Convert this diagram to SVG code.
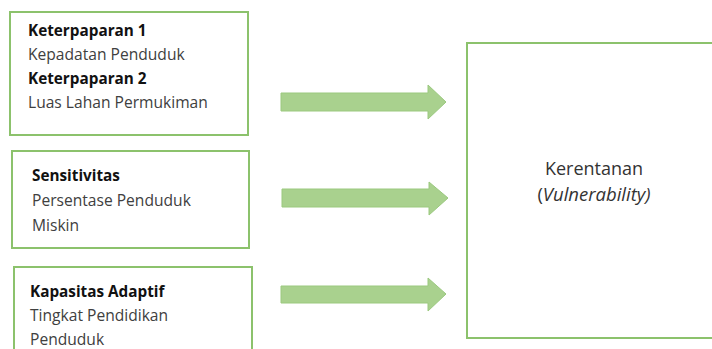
<svg xmlns="http://www.w3.org/2000/svg" width="712" height="349" viewBox="0 0 712 349">
<style>
.box{fill:#fff;stroke:#8cc26c;stroke-width:2}
.arrow{fill:#a9d18e;stroke:#9bc97f;stroke-width:1}
text{font-family:"Open Sans","Liberation Sans",sans-serif;font-size:15.6px;fill:#404040}
.b{font-weight:bold;fill:#111;font-size:15.3px}
.c{font-size:18px;fill:#333}
</style>
<rect width="712" height="349" fill="#fff"/>
<g id="keterpaparan">
<rect class="box" x="10" y="12" width="238" height="123"/>
<text class="b" x="28" y="36">Keterpaparan 1</text>
<text x="28" y="60">Kepadatan Penduduk</text>
<text class="b" x="28" y="84">Keterpaparan 2</text>
<text x="28" y="108">Luas Lahan Permukiman</text>
</g>
<g id="sensitivitas">
<rect class="box" x="12" y="151" width="237" height="97"/>
<text class="b" x="32" y="181">Sensitivitas</text>
<text x="32" y="206">Persentase Penduduk</text>
<text x="32" y="231">Miskin</text>
</g>
<g id="kapasitas">
<rect class="box" x="14" y="267" width="238" height="100"/>
<text class="b" x="30" y="297">Kapasitas Adaptif</text>
<text x="30" y="321">Tingkat Pendidikan</text>
<text x="30" y="345">Penduduk</text>
</g>
<g id="kerentanan">
<rect class="box" x="467" y="43" width="260" height="295"/>
<text class="c" x="594" y="175" text-anchor="middle">Kerentanan</text>
<text class="c" x="594" y="201" text-anchor="middle" style="font-size:18.5px">(<tspan font-style="italic">Vulnerability)</tspan></text>
</g>
<g id="connectors">
<polygon class="arrow" points="281,93 428,93 428,85 446,102 428,119 428,111 281,111"/>
<polygon class="arrow" points="282,189 429,189 429,182 448,198 429,215 429,207 282,207"/>
<polygon class="arrow" points="281,286 428,286 428,278 446,294 428,311 428,303 281,303"/>
</g>
</svg>
